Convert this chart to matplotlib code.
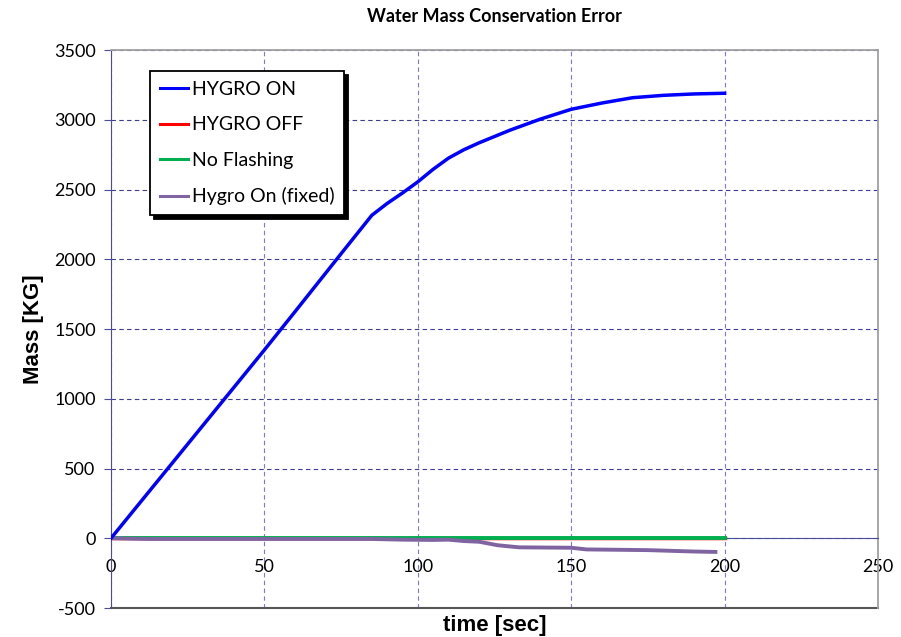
import matplotlib
matplotlib.use("Agg")
from matplotlib import pyplot as plt
from matplotlib.lines import Line2D

# time [sec] and mass error [KG]
t_on = [0, 20, 40, 50, 60, 75, 85, 90, 95, 100, 105, 110, 115, 120, 125, 130,
        140, 150, 160, 170, 180, 190, 200]
hygro_on = [0, 540, 1080, 1350, 1625, 2040, 2315, 2400, 2475, 2555, 2645, 2725,
            2785, 2835, 2880, 2925, 3005, 3075, 3120, 3158, 3175, 3185, 3190]

t_off = [0, 200]
hygro_off = [0, 0]

t_noflash = [0, 200]
no_flashing = [0, 0]

t_fixed = [0, 12, 85, 95, 105, 110, 115, 120, 126, 133, 150, 155, 175, 190, 197]
hygro_fixed = [0, -5, -5, -10, -12, -10, -20, -25, -50, -65, -68, -80, -85, -95, -98]

x_ticks = [0, 50, 100, 150, 200, 250]
y_ticks = [-500, 0, 500, 1000, 1500, 2000, 2500, 3000, 3500]

plt.rcParams["font.family"] = ["Lato", "DejaVu Sans"]
plt.rcParams["axes.unicode_minus"] = False

fig = plt.figure(figsize=(9.01, 6.37), dpi=100)
ax = fig.add_axes([0.1232, 0.0455, 0.8513, 0.876])

ax.plot(t_off, hygro_off, color="#ff0000", lw=2.5, label="HYGRO OFF", zorder=3)
ax.plot(t_noflash, no_flashing, color="#00b050", lw=2.8, label="No Flashing", zorder=3)
ax.plot(t_fixed, hygro_fixed, color="#8064a2", lw=2.8, label="Hygro On (fixed)", zorder=4)
ax.plot(t_on, hygro_on, color="#0000ff", lw=2.5, label="HYGRO ON", zorder=5)

ax.set_xlim(0, 250)
ax.set_ylim(-500, 3500)
ax.set_xticks(x_ticks)
ax.set_yticks(y_ticks)

ax.grid(axis="y", color="#3b3b9a", ls=(0, (4, 3)), lw=0.8)
ax.grid(axis="x", color="#7777ee", ls=(0, (4, 3)), lw=0.8)
ax.set_axisbelow(True)

ax.spines["bottom"].set_position(("data", 0))
ax.spines["bottom"].set_color("#4b4b9a")
ax.spines["left"].set_color("#4b4b9a")
ax.spines["top"].set_color("#a0a0a0")
ax.spines["right"].set_color("#a0a0a0")
ax.spines["top"].set_linewidth(1.3)
ax.spines["right"].set_linewidth(1.3)
ax.add_line(Line2D([0, 1], [0, 0], transform=ax.transAxes, color="#555555",
                   lw=1.5, clip_on=False))

ax.tick_params(axis="x", length=0, pad=15, labelsize=13)
ax.tick_params(axis="y", length=5, color="#4b4b9a", labelsize=13, pad=6)

ax.set_title("Water Mass Conservation Error", fontsize=13, fontweight="bold", pad=20)
ax.set_ylabel("Mass [KG]", fontsize=16, fontweight="bold",
              family=["Liberation Sans", "DejaVu Sans"], labelpad=7)
ax.text(0.5, -0.031, "time [sec]", transform=ax.transAxes, ha="center",
        va="center", fontsize=16, fontweight="bold",
        family=["Liberation Sans", "DejaVu Sans"])

handles, labels = ax.get_legend_handles_labels()
order = [3, 0, 1, 2]
leg = ax.legend([handles[i] for i in order], [labels[i] for i in order],
                loc="upper left", bbox_to_anchor=(0.051, 0.962), borderaxespad=0,
                fontsize=14, frameon=True, fancybox=False, handlelength=1.45,
                handletextpad=0.2, labelspacing=0.95, borderpad=0.5,
                shadow={"color": "black", "alpha": 1, "ox": 3, "oy": -3})
leg.get_frame().set_edgecolor("black")
leg.get_frame().set_linewidth(1.3)
for line in leg.get_lines():
    line.set_linewidth(2.2)

fig.savefig("out.png", dpi=100)
